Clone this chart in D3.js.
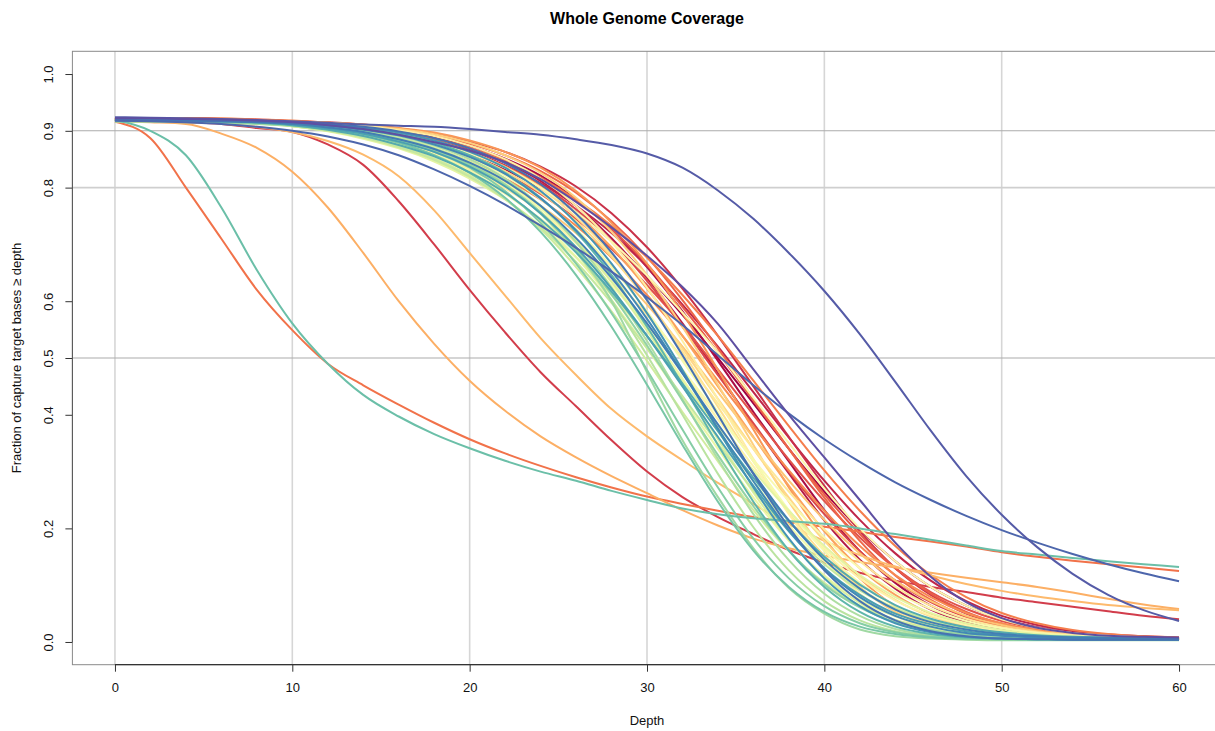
<!DOCTYPE html>
<html>
<head>
<meta charset="utf-8">
<script src="https://cdn.jsdelivr.net/npm/d3@7"></script>
<style>
  html, body { margin: 0; padding: 0; background: #ffffff; }
  svg { display: block; font-family: "Liberation Sans", Arial, Helvetica, sans-serif; }
</style>
</head>
<body>
<svg id="chart" width="1215" height="731"></svg>
<script>
// Sequencing depth (x) at which each coverage fraction was sampled
const depth = [0,2,4,6,8,10,12,14,16,18,20,22,24,26,28,30,32,34,36,38,40,42,44,46,48,50,52,54,56,58,60];

// Axis ticks and reference lines
const xTicks = [0,10,20,30,40,50,60];
const yTicks = [0,0.2,0.4,0.5,0.6,0.8,0.9,1.0];
const yTickLabels = ["0.0","0.2","0.4","0.5","0.6","0.8","0.9","1.0"];
const gridDepths = [0,10,20,30,40,50];
const gridFractions = [0.5,0.8,0.9];

// Fraction of capture target bases covered at >= depth, one array per sample (drawing order)
const s01 = [.922,.922,.922,.921,.919,.916,.911,.904,.893,.878,.858,.832,.799,.757,.706,.645,.576,.500,.420,.340,.265,.198,.142,.097,.064,.041,.026,.017,.012,.009,.007];
const s02 = [.920,.920,.920,.919,.918,.916,.913,.908,.900,.889,.873,.851,.821,.780,.727,.660,.582,.495,.405,.318,.232,.160,.104,.064,.039,.024,.015,.010,.008,.007,.006];
const s03 = [.920,.920,.920,.919,.918,.915,.912,.906,.898,.885,.868,.844,.812,.768,.711,.641,.561,.473,.383,.297,.214,.145,.094,.057,.035,.022,.014,.010,.008,.007,.006];
const s04 = [.922,.922,.922,.921,.920,.917,.913,.906,.896,.882,.864,.839,.808,.768,.720,.661,.594,.520,.440,.360,.284,.215,.156,.108,.072,.046,.030,.019,.013,.010,.008];
const s05 = [.920,.920,.920,.920,.919,.917,.915,.911,.904,.895,.881,.863,.837,.802,.755,.695,.622,.539,.450,.361,.275,.195,.130,.083,.050,.031,.019,.012,.009,.008,.007];
const s06 = [.918,.917,.915,.912,.905,.898,.876,.840,.776,.700,.620,.545,.475,.415,.355,.300,.255,.220,.190,.162,.140,.122,.108,.097,.088,.078,.070,.062,.054,.046,.040];
const s07 = [.921,.921,.920,.919,.917,.914,.910,.903,.894,.880,.862,.838,.805,.762,.706,.636,.555,.470,.385,.300,.225,.160,.108,.070,.044,.027,.017,.012,.009,.007,.006];
const s08 = [.922,.922,.922,.921,.918,.915,.910,.902,.890,.874,.852,.824,.789,.745,.692,.628,.558,.480,.400,.321,.248,.184,.130,.088,.058,.037,.024,.016,.011,.009,.007];
const s09 = [.921,.921,.920,.919,.918,.916,.912,.906,.898,.886,.870,.848,.818,.778,.727,.665,.590,.510,.425,.340,.260,.190,.130,.085,.053,.032,.020,.013,.009,.007,.006];
const s10 = [.920,.920,.920,.919,.918,.917,.914,.910,.902,.892,.877,.857,.829,.791,.741,.678,.602,.517,.428,.340,.254,.178,.117,.074,.045,.028,.017,.011,.009,.007,.006];
const s11 = [.916,.887,.800,.710,.620,.549,.490,.452,.418,.386,.357,.332,.310,.290,.272,.256,.243,.231,.220,.211,.203,.194,.185,.177,.168,.158,.150,.143,.137,.131,.125];
const s12 = [.922,.922,.922,.922,.920,.918,.914,.908,.899,.886,.869,.846,.816,.779,.733,.677,.611,.539,.460,.380,.302,.231,.169,.118,.079,.051,.033,.021,.014,.010,.008];
const s13 = [.922,.922,.922,.920,.918,.914,.908,.899,.886,.869,.846,.816,.779,.733,.677,.611,.539,.460,.380,.302,.231,.169,.118,.079,.051,.033,.021,.014,.010,.008,.007];
const s14 = [.918,.918,.918,.918,.917,.916,.914,.911,.905,.897,.883,.863,.835,.794,.738,.666,.579,.479,.374,.272,.182,.112,.063,.033,.017,.009,.006,.005,.004,.004,.004];
const s15 = [.920,.920,.920,.919,.917,.915,.911,.904,.895,.881,.863,.837,.802,.755,.695,.622,.539,.450,.361,.275,.195,.130,.083,.050,.031,.019,.012,.009,.008,.007,.006];
const s16 = [.917,.915,.912,.895,.870,.828,.765,.685,.600,.525,.460,.407,.362,.325,.292,.262,.232,.205,.182,.165,.152,.141,.131,.122,.113,.105,.097,.087,.076,.066,.058];
const s17 = [.918,.917,.916,.913,.907,.898,.882,.858,.820,.760,.685,.610,.535,.470,.410,.362,.320,.280,.243,.207,.178,.153,.133,.117,.102,.090,.080,.072,.065,.060,.056];
const s18 = [.922,.922,.921,.920,.917,.913,.906,.896,.882,.864,.839,.808,.768,.720,.661,.594,.520,.440,.360,.284,.215,.156,.108,.072,.046,.030,.019,.013,.010,.008,.006];
const s19 = [.918,.918,.918,.918,.917,.916,.914,.910,.903,.894,.879,.857,.826,.782,.722,.646,.555,.453,.347,.247,.161,.097,.053,.027,.014,.008,.006,.005,.004,.004,.004];
const s20 = [.920,.920,.919,.918,.917,.914,.910,.902,.892,.877,.857,.829,.791,.741,.678,.602,.517,.428,.340,.254,.178,.117,.074,.045,.028,.017,.011,.009,.007,.006,.005];
const s21 = [.919,.919,.919,.918,.917,.915,.911,.905,.896,.882,.863,.836,.799,.748,.682,.602,.511,.414,.318,.228,.152,.095,.056,.032,.019,.012,.008,.007,.006,.005,.005];
const s22 = [.922,.922,.921,.919,.916,.911,.904,.893,.878,.858,.832,.799,.757,.706,.645,.576,.500,.420,.340,.265,.198,.142,.097,.064,.041,.026,.017,.012,.009,.007,.006];
const s23 = [.918,.918,.918,.917,.916,.915,.913,.909,.901,.891,.874,.850,.816,.768,.704,.624,.530,.427,.322,.225,.144,.085,.046,.023,.012,.007,.005,.004,.004,.004,.004];
const s24 = [.921,.921,.920,.918,.915,.911,.904,.894,.880,.860,.834,.801,.757,.702,.635,.560,.477,.392,.309,.231,.165,.112,.073,.047,.030,.019,.013,.010,.008,.007,.006];
const s25 = [.920,.920,.919,.918,.916,.913,.909,.902,.892,.878,.860,.835,.800,.757,.705,.645,.580,.510,.430,.350,.270,.200,.142,.097,.064,.040,.025,.016,.011,.008,.006];
const s26 = [.922,.922,.921,.918,.915,.910,.902,.890,.874,.852,.824,.789,.745,.692,.628,.558,.480,.400,.321,.248,.184,.130,.088,.058,.037,.024,.016,.011,.009,.007,.006];
const s27 = [.920,.920,.919,.918,.916,.913,.908,.900,.889,.873,.851,.821,.780,.727,.660,.582,.495,.405,.318,.232,.160,.104,.064,.039,.024,.015,.010,.008,.007,.006,.005];
const s28 = [.920,.920,.919,.918,.916,.912,.907,.897,.885,.866,.841,.808,.763,.705,.635,.553,.464,.371,.283,.205,.142,.094,.060,.038,.024,.016,.011,.008,.007,.006,.005];
const s29 = [.920,.919,.918,.917,.914,.910,.902,.892,.877,.857,.829,.791,.741,.678,.602,.517,.428,.340,.254,.178,.117,.074,.045,.028,.017,.011,.009,.007,.006,.005,.005];
const s30 = [.922,.922,.920,.918,.914,.908,.899,.886,.869,.846,.816,.779,.733,.677,.611,.539,.460,.380,.302,.231,.169,.118,.079,.051,.033,.021,.014,.010,.008,.007,.006];
const s31 = [.919,.919,.918,.917,.915,.912,.907,.899,.887,.870,.846,.813,.768,.708,.634,.548,.454,.357,.263,.180,.115,.069,.039,.023,.013,.009,.007,.006,.005,.005,.005];
const s32 = [.920,.919,.918,.916,.913,.908,.900,.889,.873,.851,.821,.780,.727,.660,.582,.495,.405,.318,.232,.160,.104,.064,.039,.024,.015,.010,.008,.007,.006,.005,.005];
const s33 = [.921,.921,.919,.917,.914,.908,.900,.888,.871,.849,.819,.780,.730,.669,.597,.517,.433,.349,.267,.196,.137,.091,.059,.038,.024,.016,.011,.009,.007,.006,.006];
const s34 = [.918,.918,.917,.916,.915,.912,.907,.899,.887,.869,.843,.806,.754,.686,.602,.505,.400,.296,.202,.126,.072,.038,.019,.010,.006,.005,.004,.004,.004,.004,.004];
const s35 = [.918,.918,.917,.916,.915,.913,.909,.901,.891,.874,.850,.816,.768,.704,.624,.530,.427,.322,.225,.144,.085,.046,.023,.012,.007,.005,.004,.004,.004,.004,.004];
const s36 = [.916,.916,.915,.914,.912,.909,.904,.896,.884,.866,.840,.805,.757,.690,.600,.475,.355,.255,.165,.095,.050,.022,.010,.006,.004,.003,.003,.003,.003,.003,.003];
const s37 = [.919,.919,.918,.917,.915,.912,.906,.897,.884,.866,.840,.804,.755,.691,.612,.522,.425,.329,.239,.161,.101,.061,.035,.021,.013,.009,.007,.006,.006,.005,.005];
const s38 = [.918,.918,.917,.916,.914,.911,.905,.897,.883,.863,.835,.794,.738,.666,.579,.479,.374,.272,.182,.112,.063,.033,.017,.009,.006,.005,.004,.004,.004,.004,.004];
const s39 = [.918,.918,.917,.916,.914,.910,.903,.894,.879,.857,.826,.782,.722,.646,.555,.453,.347,.247,.161,.097,.053,.027,.014,.008,.006,.005,.004,.004,.004,.004,.004];
const s40 = [.919,.900,.857,.765,.655,.561,.490,.435,.397,.366,.341,.319,.300,.284,.266,.250,.235,.225,.218,.213,.208,.200,.190,.180,.170,.160,.154,.148,.142,.137,.132];
const s41 = [.918,.918,.918,.917,.916,.914,.910,.903,.894,.879,.857,.826,.782,.722,.646,.555,.453,.347,.247,.161,.097,.053,.027,.014,.008,.006,.005,.004,.004,.004,.004];
const s42 = [.921,.921,.920,.918,.915,.910,.902,.891,.875,.855,.827,.791,.744,.686,.617,.539,.455,.371,.289,.213,.150,.101,.065,.041,.026,.017,.012,.009,.008,.007,.006];
const s43 = [.920,.920,.919,.917,.915,.911,.904,.895,.881,.863,.837,.802,.755,.695,.622,.539,.450,.361,.275,.195,.130,.083,.050,.031,.019,.012,.009,.008,.007,.006,.005];
const s44 = [.918,.918,.918,.917,.916,.914,.911,.905,.897,.883,.863,.835,.794,.738,.666,.579,.479,.374,.272,.182,.112,.063,.033,.017,.009,.006,.005,.004,.004,.004,.004];
const s45 = [.919,.919,.919,.918,.916,.914,.909,.902,.892,.876,.854,.824,.781,.725,.653,.569,.474,.376,.283,.197,.129,.079,.046,.027,.016,.011,.008,.006,.006,.005,.005];
const s46 = [.920,.920,.919,.918,.915,.912,.906,.898,.885,.868,.844,.812,.768,.711,.641,.561,.473,.383,.297,.214,.145,.094,.057,.035,.022,.014,.010,.008,.007,.006,.005];
const s47 = [.918,.918,.918,.917,.916,.915,.912,.907,.899,.887,.869,.843,.806,.754,.686,.602,.505,.400,.296,.202,.126,.072,.038,.019,.010,.006,.005,.004,.004,.004,.004];
const s48 = [.918,.917,.915,.912,.907,.900,.890,.876,.857,.832,.803,.770,.733,.694,.652,.607,.558,.505,.452,.402,.357,.317,.281,.250,.222,.197,.175,.155,.137,.121,.107];
const s49 = [.924,.923,.922,.921,.919,.917,.914,.911,.909,.907,.903,.898,.893,.885,.875,.860,.835,.795,.745,.685,.618,.542,.458,.372,.292,.224,.167,.120,.083,.056,.037];
const s50 = [.922,.922,.921,.920,.918,.915,.910,.903,.893,.880,.865,.845,.815,.775,.730,.680,.625,.560,.480,.400,.325,.250,.175,.115,.070,.042,.025,.016,.011,.009,.008];

const samples = [s01,s02,s03,s04,s05,s06,s07,s08,s09,s10,s11,s12,s13,s14,s15,s16,s17,s18,s19,s20,s21,s22,s23,s24,s25,
                 s26,s27,s28,s29,s30,s31,s32,s33,s34,s35,s36,s37,s38,s39,s40,s41,s42,s43,s44,s45,s46,s47,s48,s49,s50];

const svg = d3.select("#chart");

// Plot region follows R's default 4% axis extension on both scales
const x = d3.scaleLinear().domain([-2.4, 62.4]).range([72.4, 1221.6]);
const y = d3.scaleLinear().domain([-0.04, 1.04]).range([664.7, 51.3]);
const color = d3.scaleSequential(d3.interpolateSpectral).domain([0, samples.length - 1]);

// Reference grid
svg.append("g").selectAll("line").data(gridDepths).join("line")
  .attr("x1", d => x(d)).attr("x2", d => x(d))
  .attr("y1", y.range()[0]).attr("y2", y.range()[1])
  .attr("stroke", "#d6d6d6").attr("stroke-width", 1.6);

svg.append("g").selectAll("line").data(gridFractions).join("line")
  .attr("x1", x.range()[0]).attr("x2", x.range()[1])
  .attr("y1", d => y(d)).attr("y2", d => y(d))
  .attr("stroke", d => d === 0.8 ? "#cfcfcf" : "#ababab")
  .attr("stroke-width", d => d === 0.8 ? 1.6 : 1.1);

// Coverage curves
const line = d3.line()
  .x((v, i) => x(depth[i]))
  .y(v => y(v))
  .curve(d3.curveMonotoneX);

svg.append("g").attr("fill", "none").attr("stroke-width", 2)
  .selectAll("path").data(samples).join("path")
  .attr("stroke", (d, i) => color(i))
  .attr("stroke-linejoin", "round")
  .attr("d", line);

// Plot frame
svg.append("rect")
  .attr("x", x.range()[0]).attr("y", y.range()[1])
  .attr("width", x.range()[1] - x.range()[0])
  .attr("height", y.range()[0] - y.range()[1])
  .attr("fill", "none").attr("stroke", "#8a8a8a").attr("stroke-width", 1);

// X axis
const xAxis = svg.append("g")
  .attr("transform", `translate(0,${y.range()[0]})`)
  .call(d3.axisBottom(x).tickValues(xTicks).tickFormat(d3.format("d")).tickSize(7).tickPadding(11));
xAxis.select(".domain").remove();
xAxis.append("line")
  .attr("x1", x(xTicks[0])).attr("x2", x(xTicks[xTicks.length - 1]))
  .attr("stroke", "#333").attr("stroke-width", 1.3);
xAxis.selectAll(".tick line").attr("stroke", "#333");
xAxis.selectAll(".tick text").attr("font-size", 13).attr("fill", "#111")
  .attr("font-family", "'Liberation Sans', Arial, sans-serif");

// Y axis with labels parallel to the axis
const yAxis = svg.append("g")
  .attr("transform", `translate(${x.range()[0]},0)`)
  .call(d3.axisLeft(y).tickValues(yTicks).tickFormat((d, i) => yTickLabels[i]).tickSize(7));
yAxis.select(".domain").remove();
yAxis.append("line")
  .attr("y1", y(yTicks[0])).attr("y2", y(yTicks[yTicks.length - 1]))
  .attr("stroke", "#555").attr("stroke-width", 1);
yAxis.selectAll(".tick line").attr("stroke", "#333");
yAxis.selectAll(".tick text")
  .attr("x", null).attr("dy", null)
  .attr("text-anchor", "middle")
  .attr("transform", "translate(-19,0) rotate(-90)")
  .attr("font-size", 13).attr("fill", "#111")
  .attr("font-family", "'Liberation Sans', Arial, sans-serif");

// Titles
svg.append("text")
  .attr("x", (x.range()[0] + x.range()[1]) / 2).attr("y", 24)
  .attr("text-anchor", "middle").attr("font-size", 16).attr("font-weight", "bold")
  .attr("fill", "#000").text("Whole Genome Coverage");

svg.append("text")
  .attr("x", (x.range()[0] + x.range()[1]) / 2).attr("y", 725)
  .attr("text-anchor", "middle").attr("font-size", 13).attr("fill", "#111")
  .text("Depth");

svg.append("text")
  .attr("transform", `translate(21,${(y.range()[0] + y.range()[1]) / 2}) rotate(-90)`)
  .attr("text-anchor", "middle").attr("font-size", 13).attr("fill", "#111")
  .text("Fraction of capture target bases \u2265 depth");
</script>
</body>
</html>
